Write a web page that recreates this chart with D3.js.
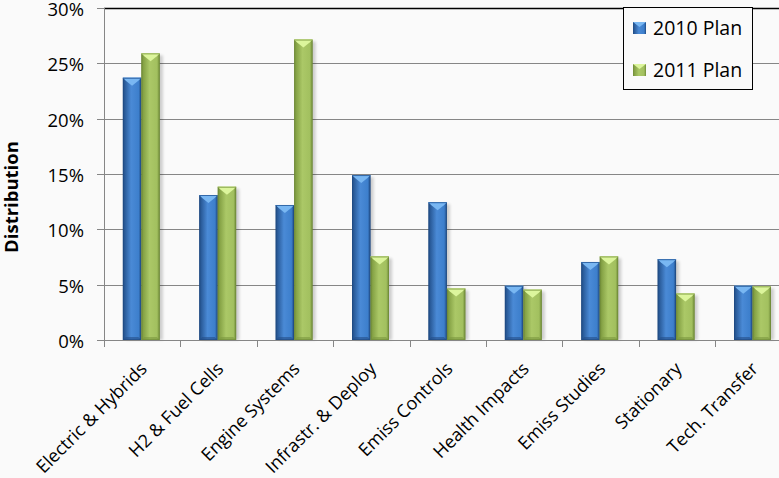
<!DOCTYPE html>
<html>
<head>
<meta charset="utf-8">
<script src="https://cdn.jsdelivr.net/npm/d3@7"></script>
<style>
html,body{margin:0;padding:0;background:#fafafa;overflow:hidden;}
svg{display:block;}
text{font-family:"Open Sans",sans-serif;fill:#000;}
</style>
</head>
<body>
<svg id="chart" width="779" height="478"></svg>
<script>
const categories = ["Electric & Hybrids","H2 & Fuel Cells","Engine Systems","Infrastr. & Deploy","Emiss Controls","Health Impacts","Emiss Studies","Stationary","Tech. Transfer"];
const plan2010 = [23.7,13.1,12.2,14.9,12.45,4.9,7.05,7.3,4.9];
const plan2011 = [25.9,13.85,27.15,7.55,4.65,4.55,7.55,4.2,4.85];
const seriesNames = ["2010 Plan","2011 Plan"];
const yTicks = [0,5,10,15,20,25,30];
const yTitle = "Distribution";

const svg = d3.select("#chart");
const bg = "#fafafa";
svg.append("rect").attr("width",779).attr("height",478).attr("fill",bg);

const pLeft = 104, pRight = 791.6, pTop = 8, pBottom = 340;
const x = d3.scaleBand().domain(categories).range([pLeft,pRight]).paddingInner(0).paddingOuter(0);
const y = d3.scaleLinear().domain([0,30]).range([pBottom,pTop]);
const bw = x.bandwidth();
const barW = 18.5;
const groupOffset = 18.8;

const defs = svg.append("defs");
const palettes = [
  {dark:"#1f4a82", edge:"#2b5d9c", mid:"#3d7fcc", light:"#4a8ad6", cap:"#79b7f2", capEdge:"#4f94de", bottom:"#244f88"},
  {dark:"#6f8a38", edge:"#86a346", mid:"#a2c05f", light:"#abc867", cap:"#dcf59c", capEdge:"#bcd97a", bottom:"#7b9840"}
];
palettes.forEach((p,i)=>{
  const g = defs.append("linearGradient").attr("id","grad"+i).attr("x1","0").attr("x2","1").attr("y1","0").attr("y2","0");
  g.append("stop").attr("offset","0").attr("stop-color",p.dark);
  g.append("stop").attr("offset","0.12").attr("stop-color",p.edge);
  g.append("stop").attr("offset","0.45").attr("stop-color",p.light);
  g.append("stop").attr("offset","0.85").attr("stop-color",p.mid);
  g.append("stop").attr("offset","1").attr("stop-color",p.dark);
});
const blur = defs.append("filter").attr("id","shadow").attr("x","-50%").attr("y","-10%").attr("width","200%").attr("height","120%");
blur.append("feGaussianBlur").attr("stdDeviation","1.5");

// gridlines
const grid = svg.append("g");
yTicks.filter(t=>t>0 && t<30).forEach(t=>{
  grid.append("line").attr("x1",pLeft).attr("x2",779).attr("y1",Math.round(y(t))+0.5).attr("y2",Math.round(y(t))+0.5)
    .attr("stroke","#868686").attr("stroke-width",1);
});
svg.append("line").attr("x1",pLeft).attr("x2",779).attr("y1",pTop+0.5).attr("y2",pTop+0.5).attr("stroke","#000").attr("stroke-width",1.3);

// bars
const series = [plan2010, plan2011];
const barsG = svg.append("g");
categories.forEach((c,ci)=>{
  series.forEach((vals,si)=>{
    const v = vals[ci];
    const x0 = x(c) + groupOffset + si*barW;
    const y0 = y(v);
    const h = pBottom - y0;
    const p = palettes[si];
    const g = barsG.append("g");
    g.append("rect").attr("x",x0+3).attr("y",y0+2).attr("width",barW).attr("height",h-2)
      .attr("fill","#000").attr("opacity",0.18).attr("filter","url(#shadow)");
    g.append("rect").attr("x",x0).attr("y",y0).attr("width",barW).attr("height",h).attr("fill","url(#grad"+si+")");
    g.append("polygon").attr("points",[[x0,pBottom],[x0+barW,pBottom],[x0+barW-3,pBottom-3],[x0+3,pBottom-3]].map(d=>d.join(",")).join(" "))
      .attr("fill",p.bottom).attr("opacity",0.6);
    g.append("polygon").attr("points",[[x0,y0],[x0+barW,y0],[x0+barW-3,y0+3],[x0+barW/2,y0+8],[x0+3,y0+3]].map(d=>d.join(",")).join(" "))
      .attr("fill",p.cap);
    g.append("line").attr("x1",x0).attr("x2",x0+barW).attr("y1",y0+0.5).attr("y2",y0+0.5).attr("stroke",p.capEdge).attr("stroke-width",1);
    g.append("rect").attr("x",x0+0.5).attr("y",y0+0.5).attr("width",barW-1).attr("height",h-1)
      .attr("fill","none").attr("stroke",p.dark).attr("stroke-width",0.8).attr("opacity",0.7);
  });
});

// y axis
const yAxisG = svg.append("g");
yAxisG.append("line").attr("x1",pLeft+0.5).attr("x2",pLeft+0.5).attr("y1",pTop).attr("y2",pBottom).attr("stroke","#868686");
yTicks.forEach(t=>{
  const yy = Math.round(y(t))+0.5;
  yAxisG.append("line").attr("x1",pLeft-7).attr("x2",pLeft).attr("y1",yy).attr("y2",yy).attr("stroke","#868686");
  yAxisG.append("text").attr("x",84).attr("y",yy+0.5).attr("dy","0.36em").attr("text-anchor","end")
    .style("font-size","18.5px").text(t+"%");
});
svg.append("text").attr("transform","translate(12,197) rotate(-90)")
  .attr("text-anchor","middle").style("font-size","18.5px").style("font-weight","bold").attr("dy","0.35em").text(yTitle);

// x axis
const xAxisG = svg.append("g");
xAxisG.append("line").attr("x1",pLeft).attr("x2",779).attr("y1",pBottom+0.5).attr("y2",pBottom+0.5).attr("stroke","#868686");
categories.forEach((c)=>{
  const bx = Math.round(x(c))+0.5;
  xAxisG.append("line").attr("x1",bx).attr("x2",bx).attr("y1",pBottom).attr("y2",pBottom+7).attr("stroke","#868686");
});
categories.forEach((c)=>{
  const cx = x(c) + bw/2 - 3;
  xAxisG.append("text").attr("transform","translate("+cx+","+(pBottom+21)+") rotate(-45)")
    .attr("text-anchor","end").attr("dy","0.7em").style("font-size","18px").text(c);
});

// legend
const leg = svg.append("g");
leg.append("rect").attr("x",623.5).attr("y",7.5).attr("width",129).attr("height",82).attr("fill",bg).attr("stroke","#000").attr("stroke-width",1);
seriesNames.forEach((n,i)=>{
  const ly = 28 + i*42;
  const p = palettes[i];
  leg.append("rect").attr("x",633).attr("y",ly-6).attr("width",13).attr("height",12).attr("fill","url(#grad"+i+")");
  leg.append("polygon").attr("points",[[633,ly-6],[646,ly-6],[639.5,ly-1]].map(d=>d.join(",")).join(" ")).attr("fill",p.cap);
  leg.append("text").attr("x",653).attr("y",ly).attr("dy","0.36em").style("font-size","19.5px").text(n);
});
</script>
</body>
</html>
